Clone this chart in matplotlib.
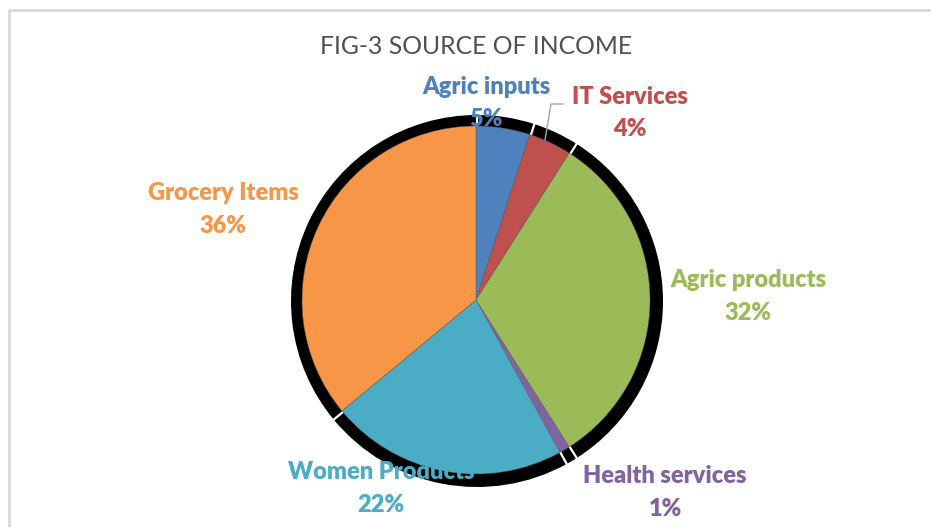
import matplotlib
matplotlib.use("Agg")
import matplotlib.pyplot as plt

# Data (clockwise from 12 o'clock)
categories = ['Agric inputs', 'IT Services', 'Agric products',
              'Health services', 'Women Products', 'Grocery Items']
shares = [5, 4, 32, 1, 22, 36]
colors = ['#4F81BD', '#C0504D', '#9BBB59', '#8064A2', '#4BACC6', '#F79646']
title = 'FIG-3 SOURCE OF INCOME'

W, H = 931, 527
fig = plt.figure(figsize=(W / 100, H / 100), dpi=100)
ax = fig.add_axes([0, 0, 1, 1])

cx, cy, r = 476, H - 300, 174

# per-slice drop shadow (slightly larger, black)
ax.pie(shares, startangle=90, counterclock=False, radius=r * 1.075,
       center=(cx + 1, cy - 1), colors=['black'] * len(shares),
       wedgeprops=dict(edgecolor='white', linewidth=1.5))
wedges, _ = ax.pie(shares, startangle=90, counterclock=False, radius=r,
                   center=(cx, cy), colors=colors,
                   wedgeprops=dict(edgecolor='#5a5a5a', linewidth=0.3))

ax.set_xlim(0, W)
ax.set_ylim(0, H)
ax.set_aspect('equal')
ax.axis('off')

# chart frame (cut off at right/bottom like the reference)
ax.plot([8.5, 8.5, W], [0, H - 9.5, H - 9.5], color='#D9D9D9', lw=2,
        solid_capstyle='butt')

ax.text(476, H - 47, title, ha='center', va='center', fontsize=17.8,
        family='Lato', color='#505050')

# label positions in pixels (name line, percent line)
label_pos = [(486, 87, 119), (630, 97, 129), (748, 280, 313),
             (665, 476, 509), (381, 472, 505), (223, 193, 226)]
for name, val, col, (x, y1, y2) in zip(categories, shares, colors, label_pos):
    ax.text(x, H - y1, name, ha='center', va='center', fontsize=17,
            fontweight='heavy', family='Lato', color=col, zorder=10)
    ax.text(x, H - y2, f'{val}%', ha='center', va='center', fontsize=17,
            fontweight='heavy', family='Lato', color=col, zorder=10)

# leader line for IT Services
ax.plot([545, 551, 563], [H - 140, H - 104, H - 104], color='#A6A6A6',
        lw=1, zorder=9)

fig.savefig('out.png', dpi=100)
